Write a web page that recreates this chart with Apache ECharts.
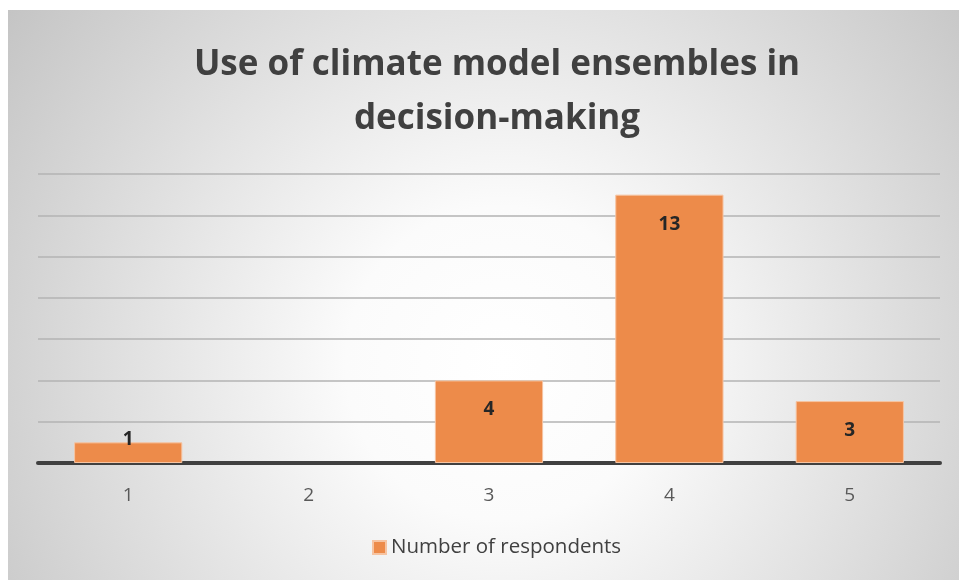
<!DOCTYPE html>
<html>
<head>
<meta charset="utf-8">
<script src="https://cdn.jsdelivr.net/npm/echarts@6/dist/echarts.min.js"></script>
<style>
  html, body { margin: 0; padding: 0; background: #fff; }
  #main { width: 959px; height: 580px; }
</style>
</head>
<body>
<div id="main"></div>
<script>
var categories = ["1", "2", "3", "4", "5"];
var respondents = [1, 0, 4, 13, 3];
var seriesName = "Number of respondents";
var titleText = "Use of climate model ensembles in\ndecision-making";

var chart = echarts.init(document.getElementById("main"));

// Excel puts the label above the bar when the bar is too short to hold it
var barData = respondents.map(function (v) {
    if (v === 0) return { value: v, label: { show: false }, itemStyle: { borderWidth: 0 } };
    if (v < 2) return { value: v, label: { position: "top", distance: -7 } };
    return v;
});

var option = {
    backgroundColor: "#ffffff",
    graphic: [{
        type: "rect",
        z: -100,
        silent: true,
        shape: { x: 8, y: 10, width: 951, height: 570 },
        style: {
            fill: {
                type: "radial", x: 0.52, y: 0.62, r: 1.1,
                colorStops: [
                    { offset: 0, color: "#ffffff" },
                    { offset: 0.25, color: "#fbfbfb" },
                    { offset: 1, color: "#c2c2c2" }
                ]
            }
        }
    }],
    title: {
        text: titleText,
        left: 492,
        textAlign: "center",
        top: 33,
        textStyle: {
            fontFamily: "Open Sans",
            fontWeight: "bold",
            fontSize: 35,
            lineHeight: 54,
            color: "#404040"
        }
    },
    legend: {
        bottom: 17,
        left: 367,
        icon: "rect",
        itemWidth: 13,
        itemHeight: 13,
        itemGap: 6,
        textStyle: { fontFamily: "Open Sans", fontSize: 20.5, color: "#404040" },
        data: [seriesName]
    },
    grid: { left: 38, right: 19, top: 174, bottom: 117 },
    xAxis: {
        type: "category",
        data: categories,
        axisTick: { show: false },
        axisLine: { lineStyle: { color: "#404040", width: 4 } },
        axisLabel: { fontFamily: "Open Sans", fontSize: 19, color: "#595959", margin: 23 }
    },
    yAxis: {
        type: "value",
        min: 0,
        max: 14,
        interval: 2,
        axisLabel: { show: false },
        axisLine: { show: false },
        axisTick: { show: false },
        splitLine: { lineStyle: { color: "#b3b3b3", width: 1.5 } }
    },
    series: [{
        name: seriesName,
        type: "bar",
        barWidth: "60%",
        data: barData,
        itemStyle: { color: "#ED8B4A", borderColor: "#F6C4A2", borderWidth: 1 },
        label: {
            show: true,
            position: "insideTop",
            distance: 20,
            fontFamily: "Open Sans",
            fontWeight: "bold",
            fontSize: 19,
            color: "#262626"
        }
    }]
};

chart.setOption(option);
</script>
</body>
</html>
